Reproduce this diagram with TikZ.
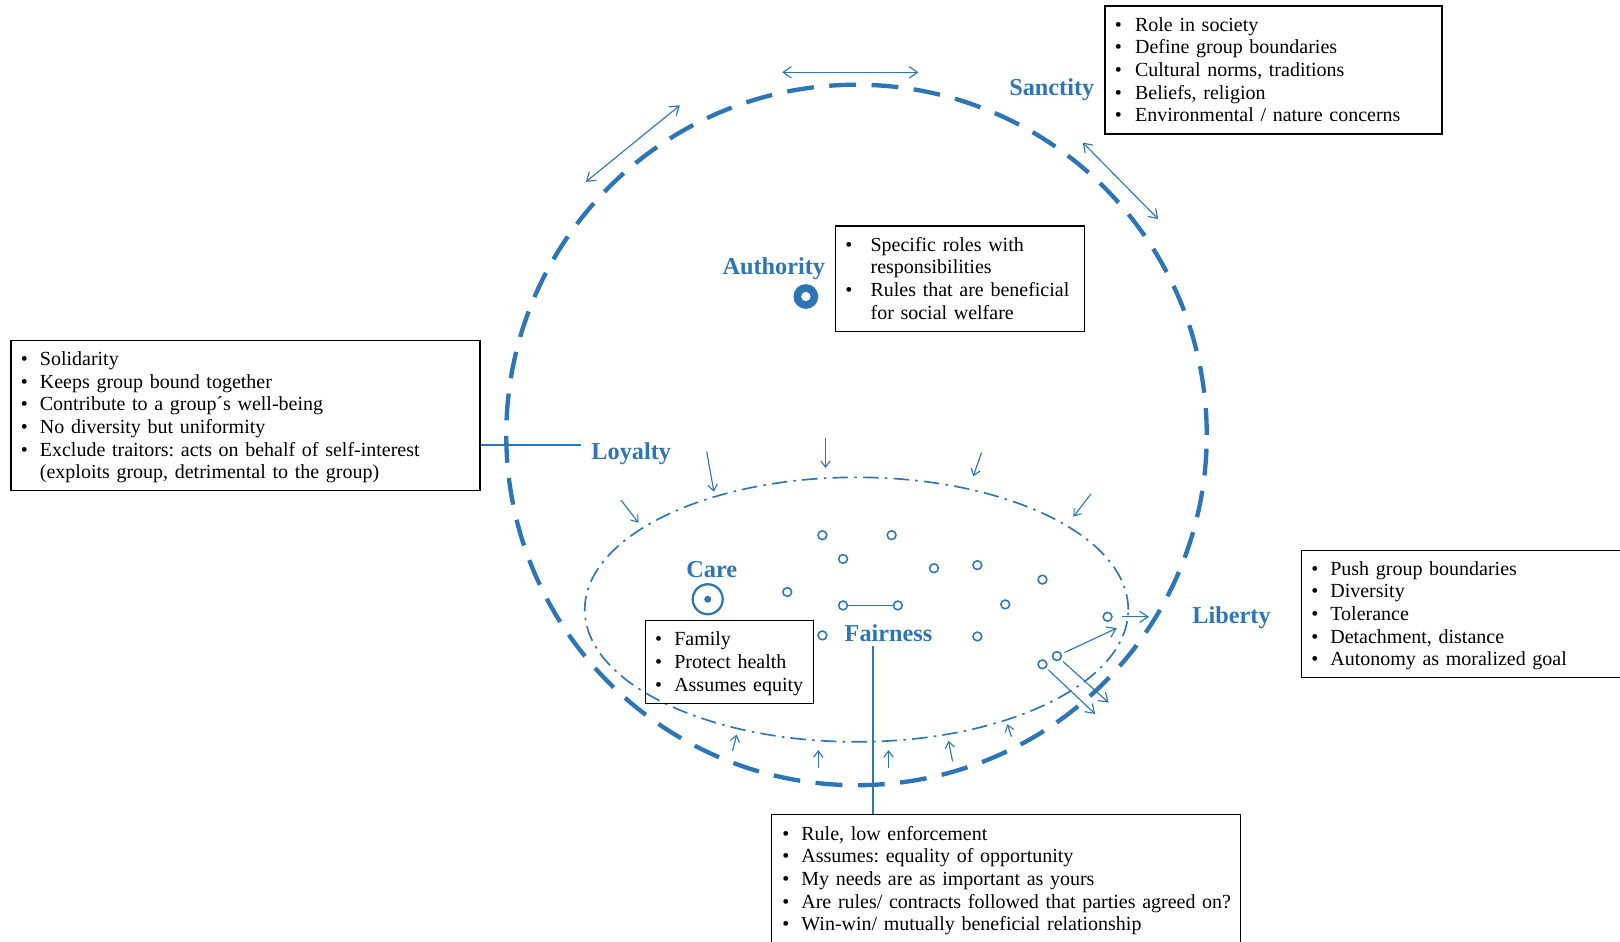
\documentclass[tikz,border=0pt]{standalone}
\usepackage{fontspec}
\setmainfont{Liberation Serif}
\usetikzlibrary{arrows.meta}
\definecolor{mfblue}{HTML}{2E75B6}
\frenchspacing
% bullet list set as a two-column table: bullet column, then text
\newcommand{\bitems}[2][19pt]{\noindent\begin{tabular}{@{}p{#1}@{}l@{}}\noalign{\vskip 4pt}#2\end{tabular}}
\begin{document}
\begin{tikzpicture}[x=1pt,y=-1pt,
  every node/.style={font=\fontsize{19.35}{22}\selectfont},
  moraltag/.style={text=mfblue, font=\fontsize{23.5}{26}\selectfont\bfseries, inner sep=1pt, anchor=base},
  infobox/.style={draw=black, line width=1.3pt, anchor=north west, align=left, inner xsep=9.5pt, inner ysep=0pt},
  dotpt/.style={circle, draw=mfblue, line width=1.5pt, minimum size=8.5pt, inner sep=0pt},
  inarrow/.style={mfblue, line width=1.1pt, -{Straight Barb[length=6pt,width=9pt]}},
  outarrow/.style={mfblue, line width=1.1pt, -{Straight Barb[length=8pt,width=11pt]}},
  twoway/.style={mfblue, line width=1.1pt, {Straight Barb[length=8pt,width=11pt]}-{Straight Barb[length=8pt,width=11pt]}},
  leadline/.style={mfblue, line width=1.8pt}
]
\useasboundingbox (0,0) rectangle (1568,911);
\clip (0,0) rectangle (1568,911);

% outer group boundary and inner dash-dot ellipse
\draw[mfblue, line width=4.2pt, dash pattern=on 26pt off 15pt] (829,421) circle (339pt);
\draw[mfblue, line width=1.6pt, dash pattern=on 15pt off 6pt on 2.5pt off 6pt] (829,590) ellipse (263pt and 128pt);

% information boxes
\node[infobox, text width=307pt, minimum height=124pt] (sbox) at (1069,5)
  {\bitems[19.5pt]{\textbullet & Role in society\\ \textbullet & Define group boundaries\\ \textbullet & Cultural norms, traditions\\ \textbullet & Beliefs, religion\\ \textbullet & Environmental / nature concerns}};
\node[infobox, text width=222pt, minimum height=102pt] (abox) at (808,218)
  {\bitems[24.5pt]{\textbullet & Specific roles with\\ & responsibilities\\ \textbullet & Rules that are beneficial\\ & for social welfare}};
\node[infobox, text width=435pt, minimum height=145pt] (lbox) at (10,329)
  {\bitems[18.5pt]{\textbullet & Solidarity\\ \textbullet & Keeps group bound together\\ \textbullet & Contribute to a group\textasciiacute s well-being\\ \textbullet & No diversity but uniformity\\ \textbullet & Exclude traitors: acts on behalf of self-interest\\ & (exploits group, detrimental to the group)}};
\node[infobox, text width=144pt, minimum height=80pt] (cbox) at (624,600)
  {\bitems[18.5pt]{\textbullet & Family\\ \textbullet & Protect health\\ \textbullet & Assumes equity}};
\node[infobox, text width=301pt, minimum height=123pt] (libbox) at (1259,532)
  {\bitems[18.5pt]{\textbullet & Push group boundaries\\ \textbullet & Diversity\\ \textbullet & Tolerance\\ \textbullet & Detachment, distance\\ \textbullet & Autonomy as moralized goal}};
\node[infobox, inner xsep=10.5pt, text width=433pt, minimum height=124pt] (fbox) at (746,788)
  {\bitems[18.5pt]{\textbullet & Rule, low enforcement\\ \textbullet & Assumes: equality of opportunity\\ \textbullet & My needs are as important as yours\\ \textbullet & Are rules/ contracts followed that parties agreed on?\\ \textbullet & Win-win/ mutually beneficial relationship}};

% foundation labels
\node[moraltag] (sanctity) at (1018,92) {Sanctity};
\node[moraltag] (authority) at (749,266) {Authority};
\node[moraltag, inner xsep=10pt] (loyalty) at (611,445) {Loyalty};
\node[moraltag] (care) at (689,559) {Care};
\node[moraltag] (fairness) at (860,621) {Fairness};
\node[moraltag] (liberty) at (1192,603) {Liberty};

% authority and care markers
\node[circle, fill=mfblue, minimum size=24pt, inner sep=0pt] (adot) at (780,287) {};
\fill[white] (adot.center) circle (4.5pt);
\node[circle, draw=mfblue, line width=2.2pt, minimum size=29pt, inner sep=0pt] (cmark) at (685,580) {};
\fill[mfblue] (cmark.center) circle (3.4pt);

% leader lines to the boxes
\coordinate (lstart) at ([yshift=-28.5pt]lbox.east);
\draw[leadline] (lstart) -- (lstart -| loyalty.west);
\coordinate (ftop) at (845,625);
\draw[leadline] (ftop) -- (ftop |- fbox.north);

% group members
\foreach \n/\px/\py in {1/796/518, 2/863/518, 3/816/541, 4/904/550, 5/946/547, 6/1009/561,
  7/762/573, 8/816/586, 9/869/586, 10/973/585, 11/796/615, 12/946/616, 13/1072/597,
  14/1023/635, 15/1009/643}
  \node[dotpt] (p\n) at (\px,\py) {};
\draw[mfblue, line width=1.5pt] (p8) -- (p9);

% pressure on the inner boundary
\foreach \n/\sx/\sy/\ex/\ey in {1/601/484/618/506, 2/684/437/691/476, 3/799/424/799/453,
  4/950/438/942/461, 5/1056/478/1039/500, 6/709/727/713/711, 7/792/743/792/726,
  8/860/743/860/726, 9/922/737/918/717, 10/979/713/975/701}
{
  \coordinate (in\n s) at (\sx,\sy);
  \coordinate (in\n e) at (\ex,\ey);
  \draw[inarrow] (in\n s) -- (in\n e);
}

% members pushing outwards
\coordinate (o1) at (1112,597);
\coordinate (o2) at (1081,608);
\coordinate (o3) at (1073,680);
\coordinate (o4) at (1060,691);
\draw[outarrow, shorten <=9pt] (p13) -- (o1);
\draw[outarrow, shorten <=3pt] (p14) -- (o2);
\draw[outarrow, shorten <=3pt] (p14) -- (o3);
\draw[outarrow, shorten <=3pt] (p15) -- (o4);

% flexible outer boundary
\coordinate (d1a) at (757,70);  \coordinate (d1b) at (889,70);
\coordinate (d2a) at (567,176); \coordinate (d2b) at (658,102);
\coordinate (d3a) at (1048,138); \coordinate (d3b) at (1121,212);
\draw[twoway] (d1a) -- (d1b);
\draw[twoway] (d2a) -- (d2b);
\draw[twoway] (d3a) -- (d3b);
\end{tikzpicture}
\end{document}
